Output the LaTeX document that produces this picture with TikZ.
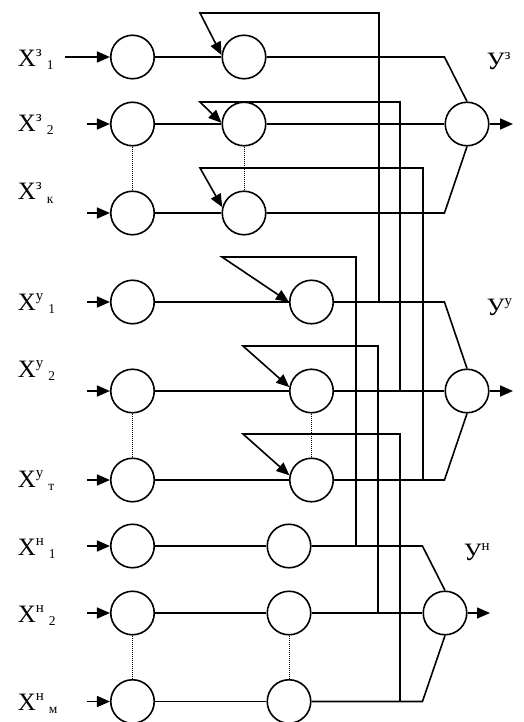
\documentclass[tikz,border=0pt]{standalone}
\usepackage{fontspec}
\setmainfont{Liberation Serif}
\usetikzlibrary{arrows.meta}
\newcommand{\xlbl}[2]{\fontsize{25}{25}\selectfont X\raisebox{10pt}{\fontsize{15}{15}\selectfont #1}\hspace{5pt}\raisebox{-3pt}{\fontsize{13.5}{13.5}\selectfont #2}}
\newcommand{\ylbl}[1]{\fontsize{25}{25}\selectfont У\raisebox{10pt}{\fontsize{15}{15}\selectfont #1}}
\begin{document}
\begin{tikzpicture}[x=1pt,y=-1pt,line width=1.6pt,
  neu/.style={circle,draw,minimum size=43.5pt,inner sep=0pt},
  tip/.style={-{Triangle[length=13pt,width=11pt]}},
  dots/.style={densely dotted,line width=1pt},
  lbl/.style={anchor=base west,inner sep=0pt}]
\useasboundingbox (0,0) rectangle (523,722);
\clip (0,0) rectangle (523,722);
% ---- neurons
\node[neu] (A1) at (132.5,57) {};
\node[neu] (A2) at (132.5,124) {};
\node[neu] (A3) at (132.5,213) {};
\node[neu] (B1) at (244,57) {};
\node[neu] (B2) at (244,124) {};
\node[neu] (B3) at (244,213) {};
\node[neu] (O1) at (467,124) {};
\node[neu] (C1) at (132.5,302) {};
\node[neu] (C2) at (132.5,391) {};
\node[neu] (C3) at (132.5,480) {};
\node[neu] (D1) at (311.5,302) {};
\node[neu] (D2) at (311.5,391) {};
\node[neu] (D3) at (311.5,480) {};
\node[neu] (O2) at (467,391) {};
\node[neu] (E1) at (132.5,546) {};
\node[neu] (E2) at (132.5,613) {};
\node[neu] (E3) at (132.5,701.5) {};
\node[neu] (F1) at (289,546) {};
\node[neu] (F2) at (289,613) {};
\node[neu] (F3) at (289,701.5) {};
\node[neu] (O3) at (445,613) {};
% ---- labels
\node[lbl] (lx1) at (17,67) {\xlbl{з}{1}};
\node[lbl] (lx2) at (17,132) {\xlbl{з}{2}};
\node[lbl] (lx3) at (17,200) {\xlbl{з}{к}};
\node[lbl] (lx4) at (17,310) {\xlbl{у}{1}};
\node[lbl] (lx5) at (17,377) {\xlbl{у}{2}};
\node[lbl] (lx6) at (17,487) {\xlbl{у}{т}};
\node[lbl] (lx7) at (17,555) {\xlbl{н}{1}};
\node[lbl] (lx8) at (17,622) {\xlbl{н}{2}};
\node[lbl] (lx9) at (17,710) {\xlbl{н}{м}};
\node[lbl] (ly1) at (486,70) {\ylbl{з}};
\node[lbl] (ly2) at (486,315) {\ylbl{у}};
\node[lbl] (ly3) at (463,560) {\ylbl{н}};
% ---- input arrows
\coordinate (i1) at (65,57);
\coordinate (i2) at (87,124);
\coordinate (i3) at (87,213);
\coordinate (i4) at (87,302);
\coordinate (i5) at (87,391);
\coordinate (i6) at (87,480);
\coordinate (i7) at (87,546);
\coordinate (i8) at (87,613);
\coordinate (i9) at (87,701.5);
\draw[tip] (i1) -- (A1.west);
\draw[tip] (i2) -- (A2.west);
\draw[tip] (i3) -- (A3.west);
\draw[tip] (i4) -- (C1.west);
\draw[tip] (i5) -- (C2.west);
\draw[tip] (i6) -- (C3.west);
\draw[tip] (i7) -- (E1.west);
\draw[tip] (i8) -- (E2.west);
\draw[tip] (i9) -- (E3.west);
% ---- first to second column
\draw (A1.east) -- (B1.west);
\draw (A2.east) -- (B2.west);
\draw (A3.east) -- (B3.west);
\draw (C1.east) -- (D1.west);
\draw (C2.east) -- (D2.west);
\draw (C3.east) -- (D3.west);
\draw (E1.east) -- (F1.west);
\draw (E2.east) -- (F2.west);
\draw (E3.east) -- (F3.west);
% ---- dotted
\draw[dots] (A2.south) -- (A3.north);
\draw[dots] (B2.south) -- (B3.north);
\draw[dots] (C2.south) -- (C3.north);
\draw[dots] (D2.south) -- (D3.north);
\draw[dots] (E2.south) -- (E3.north);
\draw[dots] (F2.south) -- (F3.north);
% ---- outputs
\draw (B1.east) -- (B1 -| O1.west) -- (O1.north);
\draw (B2.east) -- (O1.west);
\draw (B3.east) -- (B3 -| O1.west) -- (O1.south);
\draw (D1.east) -- (D1 -| O2.west) -- (O2.north);
\draw (D2.east) -- (O2.west);
\draw (D3.east) -- (D3 -| O2.west) -- (O2.south);
\draw (F1.east) -- (F1 -| O3.west) -- (O3.north);
\draw (F2.east) -- (O3.west);
\draw (F3.east) -- (F3 -| O3.west) -- (O3.south);
\coordinate (o1) at (513,124);
\coordinate (o2) at (513,391);
\coordinate (o3) at (490,613);
\draw[tip] (O1.east) -- (o1);
\draw[tip] (O2.east) -- (o2);
\draw[tip] (O3.east) -- (o3);
% ---- feedback
\coordinate (f1) at (200,13);   \coordinate (v1) at (379,13);
\coordinate (f2) at (200,102);  \coordinate (v2) at (400,102);
\coordinate (f3) at (200,168);  \coordinate (v3) at (423,168);
\coordinate (f4) at (222,257);  \coordinate (v4) at (356,257);
\coordinate (f5) at (243,346);  \coordinate (v5) at (378,346);
\coordinate (f6) at (243,434);  \coordinate (v6) at (400,434);
\draw[tip] (v1 |- D1) -- (v1) -- (f1) -- (B1.175);
\draw[tip] (v2 |- D2) -- (v2) -- (f2) -- (B2.177);
\draw[tip] (v3 |- D3) -- (v3) -- (f3) -- (B3.165);
\draw[tip] (v4 |- F1) -- (v4) -- (f4) -- (D1.180);
\draw[tip] (v5 |- F2) -- (v5) -- (f5) -- (D2.170);
\draw[tip] (v6 |- F3) -- (v6) -- (f6) -- (D3.168);
\end{tikzpicture}
\end{document}
